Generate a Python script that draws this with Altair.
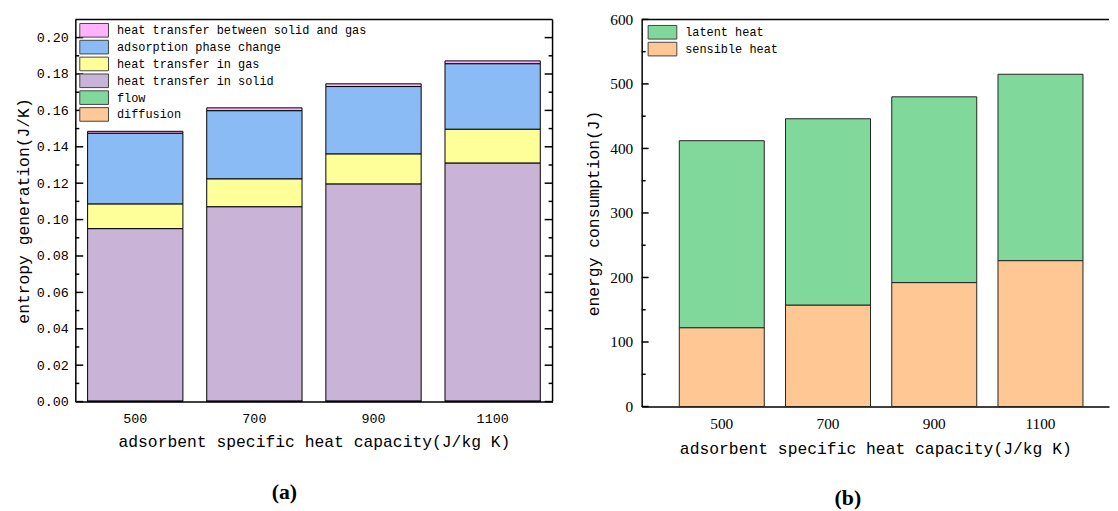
import altair as alt
import pandas as pd

# ---------------- data ----------------
categories = ["500", "700", "900", "1100"]

# panel (a): entropy generation components (J/K)
between = [0.0011, 0.0016, 0.0015, 0.0016]
adsorption = [0.0389, 0.0375, 0.0371, 0.0360]
gas = [0.0135, 0.0153, 0.0165, 0.0186]
solid = [0.0948, 0.1068, 0.1193, 0.1308]
flow = [0.0001, 0.0001, 0.0001, 0.0001]
diffusion = [0.0001, 0.0001, 0.0001, 0.0001]

series_a = ["heat transfer between solid and gas", "adsorption phase change",
            "heat transfer in gas", "heat transfer in solid", "flow", "diffusion"]
colors_a = ["#FFB3FF", "#8BBBF4", "#FFFF99", "#C9B3D7", "#7FD99B", "#FFC896"]
stack_rank_a = [5, 4, 3, 2, 1, 0]

# panel (b): energy consumption (J)
sensible = [122, 157, 192, 226]
latent = [290, 289, 288, 289]
series_b = ["latent heat", "sensible heat"]
colors_b = ["#80D89A", "#FFC793"]
stack_rank_b = [1, 0]

ticks_a_major = [0.0, 0.02, 0.04, 0.06, 0.08, 0.10, 0.12, 0.14, 0.16, 0.18, 0.20]
ticks_a_minor = [0.01, 0.03, 0.05, 0.07, 0.09, 0.11, 0.13, 0.15, 0.17, 0.19]
ticks_b_major = [0, 100, 200, 300, 400, 500, 600]
ticks_b_minor = [50, 150, 250, 350, 450, 550]

rows_a = []
for name, vals, rk in zip(series_a, [between, adsorption, gas, solid, flow, diffusion], stack_rank_a):
    for c, v in zip(categories, vals):
        rows_a.append({"cap": c, "component": name, "value": v, "rank": rk})
df_a = pd.DataFrame(rows_a)

rows_b = []
for name, vals, rk in zip(series_b, [latent, sensible], stack_rank_b):
    for c, v in zip(categories, vals):
        rows_b.append({"cap": c, "component": name, "value": v, "rank": rk})
df_b = pd.DataFrame(rows_b)

# ---------------- style ----------------
MONO = "Liberation Mono"
SERIF = "Liberation Serif"
SWATCH = "M-2,-0.95H2V0.95H-2Z"

W1, H1 = 482, 386
W2, H2 = 472, 391
DOM_A = [0, 0.21]
DOM_B = [0, 600]

yaxis_a = alt.Axis(orient="left", title="entropy generation(J/K)", format=".2f",
                   values=ticks_a_major, ticks=False, tickSize=0, domain=True,
                   domainColor="black", domainWidth=1.5, grid=False,
                   labelFont=MONO, labelFontSize=13.5, labelColor="black", labelPadding=7,
                   titleFont=MONO, titleFontSize=16.5, titleFontWeight="normal",
                   titleColor="black", titlePadding=5)

yaxis_b = alt.Axis(orient="left", title="energy consumption(J)",
                   values=ticks_b_major, ticks=False, tickSize=0, domain=True,
                   domainColor="black", domainWidth=1.5, grid=False,
                   labelFont=SERIF, labelFontSize=15.5, labelColor="black", labelPadding=9,
                   titleFont=MONO, titleFontSize=16.5, titleFontWeight="normal",
                   titleColor="black", titlePadding=8)


def tick_marks(values, dom, yaxis, x0, x1):
    return alt.Chart(pd.DataFrame({"value": values})).mark_rule(
        color="black", strokeWidth=1.5
    ).encode(
        y=alt.Y("value:Q", scale=alt.Scale(domain=dom, nice=False), axis=yaxis),
        x=alt.value(x0), x2=alt.value(x1),
    )


def frame_line(x0, x1, y0, y1):
    return alt.Chart(pd.DataFrame({"k": [0]})).mark_rule(
        color="black", strokeWidth=1.5
    ).encode(x=alt.value(x0), x2=alt.value(x1), y=alt.value(y0), y2=alt.value(y1))


def x_axis(label_font, label_size, label_pad, title_pad):
    return alt.Axis(orient="bottom", title="adsorbent specific heat capacity(J/kg K)",
                    labelAngle=0, ticks=False, tickSize=0, domain=True, domainColor="black",
                    domainWidth=1.5, grid=False, labelFont=label_font, labelFontSize=label_size,
                    labelColor="black", labelPadding=label_pad, titleFont=MONO, titleFontSize=16.5,
                    titleFontWeight="normal", titleColor="black", titlePadding=title_pad)


def legend(x, y, row_pad):
    return alt.Legend(orient="none", legendX=x, legendY=y, title=None,
                      symbolType=SWATCH, symbolSize=210, symbolOpacity=1,
                      symbolStrokeColor="#444444", symbolStrokeWidth=1,
                      labelFont=MONO, labelFontSize=12, labelColor="black", labelLimit=400,
                      labelOffset=15, rowPadding=row_pad, padding=0)


# ---------------- panel (a) ----------------
xscale_a = alt.Scale(paddingInner=0.2, paddingOuter=0.103, align=0.5)

bars_a = alt.Chart(df_a).mark_bar(stroke="black", strokeWidth=1).encode(
    x=alt.X("cap:N", sort=categories, scale=xscale_a, axis=x_axis(MONO, 13.5, 10, 9)),
    y=alt.Y("value:Q", stack="zero", scale=alt.Scale(domain=DOM_A, nice=False), axis=yaxis_a),
    color=alt.Color("component:N", scale=alt.Scale(domain=series_a, range=colors_a),
                    legend=legend(11, 3, -2.5)),
    order=alt.Order("rank:Q", sort="ascending"),
)

left = alt.layer(
    bars_a,
    tick_marks(ticks_a_major, DOM_A, yaxis_a, 0, 8),
    tick_marks(ticks_a_minor, DOM_A, yaxis_a, 0, 4),
    tick_marks(ticks_a_major, DOM_A, yaxis_a, W1 - 8, W1),
    tick_marks(ticks_a_minor, DOM_A, yaxis_a, W1 - 4, W1),
    frame_line(0, W1, 0, 0),
    frame_line(W1, W1, 0, H1),
).properties(
    width=W1, height=H1,
    title=alt.TitleParams("(a)", orient="bottom", anchor="middle", frame="bounds", offset=32,
                          font=SERIF, fontSize=22, fontWeight="bold", color="black"),
)

# ---------------- panel (b) ----------------
xscale_b = alt.Scale(paddingInner=0.2, paddingOuter=0.2995, align=0.591)

bars_b = alt.Chart(df_b).mark_bar(stroke="#222222", strokeWidth=1).encode(
    x=alt.X("cap:N", sort=categories, scale=xscale_b, axis=x_axis(SERIF, 15.5, 10, 9)),
    y=alt.Y("value:Q", stack="zero", scale=alt.Scale(domain=DOM_B, nice=False), axis=yaxis_b),
    color=alt.Color("component:N", scale=alt.Scale(domain=series_b, range=colors_b),
                    legend=legend(13, 5, -1.5)),
    order=alt.Order("rank:Q", sort="ascending"),
)

right = alt.layer(
    bars_b,
    tick_marks(ticks_b_major, DOM_B, yaxis_b, 0, 7),
    tick_marks(ticks_b_minor, DOM_B, yaxis_b, 0, 4),
    frame_line(0, W2, 0, 0),
).properties(
    width=W2, height=H2,
    title=alt.TitleParams("(b)", orient="bottom", anchor="middle", frame="bounds", offset=31,
                          font=SERIF, fontSize=22, fontWeight="bold", color="black"),
)

chart = alt.hconcat(left, right, spacing=90, bounds="flush").resolve_scale(
    color="independent"
).properties(
    padding={"left": 7, "top": 2, "right": 0, "bottom": 0},
    background="white",
).configure_view(stroke=None)

chart.save("out.html", embed_options={"renderer": "svg", "actions": False})
